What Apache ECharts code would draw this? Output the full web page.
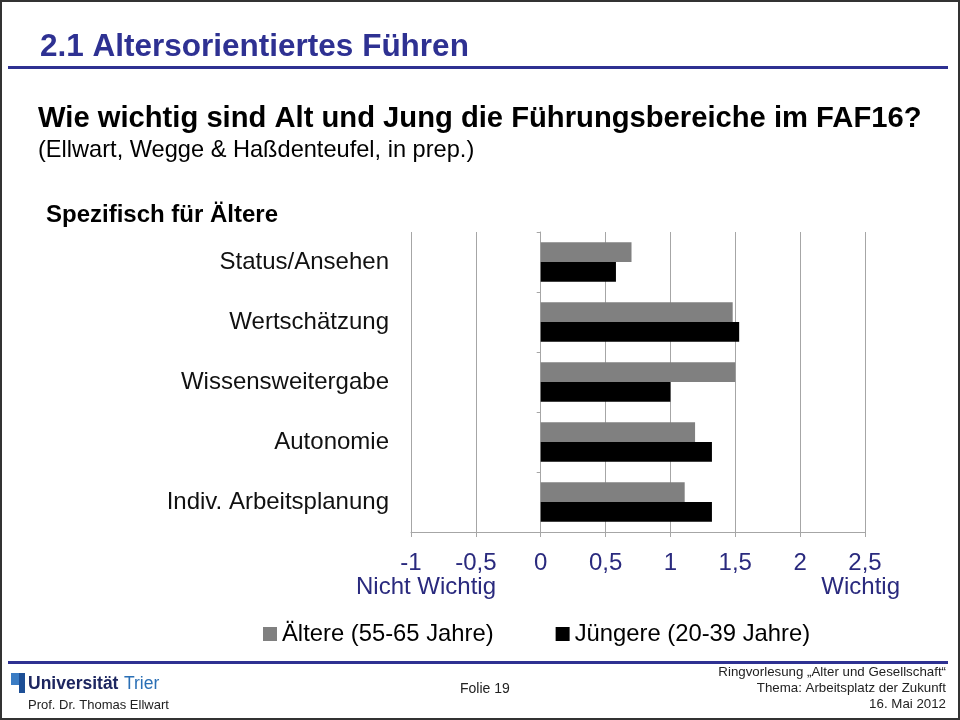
<!DOCTYPE html>
<html>
<head>
<meta charset="utf-8">
<script src="https://cdn.jsdelivr.net/npm/echarts@6/dist/echarts.min.js"></script>
<style>html,body{margin:0;padding:0;background:#fff}#c{width:960px;height:720px}</style>
</head>
<body>
<div id="c"></div>
<script>
const categories = ['Status/Ansehen', 'Wertschätzung', 'Wissensweitergabe', 'Autonomie', 'Indiv. Arbeitsplanung'];
const aeltere = [0.70, 1.48, 1.50, 1.19, 1.11];
const juengere = [0.58, 1.53, 1.00, 1.32, 1.32];
const seriesNames = ['Ältere (55-65 Jahre)', 'Jüngere (20-39 Jahre)'];
const xMin = -1, xMax = 2.5, xStep = 0.5;

const FONT = '"Liberation Sans", Arial, sans-serif';
const NAVY = '#2e3192';
const TICKNAVY = '#2a2a7e';

const chart = echarts.init(document.getElementById('c'), null, {renderer: 'canvas'});
chart.setOption({
  backgroundColor: '#ffffff',
  animation: false,
  textStyle: {fontFamily: FONT},
  grid: {left: 411, right: 95, top: 232, bottom: 188, containLabel: false},
  xAxis: {
    type: 'value', min: xMin, max: xMax, interval: xStep,
    axisLine: {show: true, lineStyle: {color: '#a6a6a6', width: 1}},
    axisTick: {show: true, length: 5, lineStyle: {color: '#a6a6a6'}},
    splitLine: {show: true, lineStyle: {color: '#a6a6a6', width: 1}},
    axisLabel: {
      color: TICKNAVY, fontSize: 24, fontFamily: FONT, margin: 19,
      formatter: v => String(v).replace('.', ',')
    }
  },
  yAxis: {
    type: 'category', data: categories, inverse: true,
    axisLine: {show: true, onZero: true, lineStyle: {color: '#a6a6a6', width: 1}},
    axisTick: {show: true, length: 4, lineStyle: {color: '#a6a6a6'}},
    axisLabel: {color: '#111', fontSize: 24, fontFamily: FONT, margin: 22}
  },
  legend: {
    data: seriesNames, left: 258, top: 617, icon: 'rect', itemWidth: 14, itemHeight: 14,
    itemGap: 62, textStyle: {fontSize: 23.8, color: '#000', fontFamily: FONT}
  },
  series: [
    {name: seriesNames[0], type: 'bar', data: aeltere, itemStyle: {color: '#808080'},
     barGap: '0%', barCategoryGap: '34%'},
    {name: seriesNames[1], type: 'bar', data: juengere, itemStyle: {color: '#000000'},
     barGap: '0%', barCategoryGap: '34%'}
  ],
  graphic: [
    {type: 'rect', shape: {x: 1, y: 1, width: 958, height: 718}, style: {fill: 'none', stroke: '#333', lineWidth: 2}, silent: true},
    {type: 'text', left: 40, top: 31, style: {text: '2.1 Altersorientiertes Führen', fill: NAVY, font: 'bold 31.5px ' + FONT}},
    {type: 'rect', shape: {x: 8, y: 66, width: 940, height: 3}, style: {fill: NAVY}},
    {type: 'text', left: 38, top: 104, style: {text: 'Wie wichtig sind Alt und Jung die Führungsbereiche im FAF16?', fill: '#000', font: 'bold 29.2px ' + FONT}},
    {type: 'text', left: 38, top: 138, style: {text: '(Ellwart, Wegge & Haßdenteufel, in prep.)', fill: '#000', font: '23.6px ' + FONT}},
    {type: 'text', left: 46, top: 203, style: {text: 'Spezifisch für Ältere', fill: '#000', font: 'bold 24px ' + FONT}},
    {type: 'text', left: 356, top: 575, style: {text: 'Nicht Wichtig', fill: TICKNAVY, font: '24px ' + FONT}},
    {type: 'text', right: 60, top: 575, style: {text: 'Wichtig', fill: TICKNAVY, font: '24px ' + FONT}},
    {type: 'rect', shape: {x: 8, y: 661, width: 940, height: 3}, style: {fill: NAVY}},
    {type: 'polygon', shape: {points: [[11,673],[19,673],[19,685],[11,685]]}, style: {fill: '#3a7cc4'}},
    {type: 'polygon', shape: {points: [[19,673],[25,673],[25,693],[19,693]]}, style: {fill: '#1d4f96'}},
    {type: 'text', left: 28, top: 675, style: {text: 'Universität', fill: '#1d2660', font: 'bold 17.5px ' + FONT}},
    {type: 'text', left: 124, top: 675, style: {text: 'Trier', fill: '#2a6fb5', font: '17.5px ' + FONT}},
    {type: 'text', left: 28, top: 699, style: {text: 'Prof. Dr. Thomas Ellwart', fill: '#222', font: '13px ' + FONT}},
    {type: 'text', left: 460, top: 682, style: {text: 'Folie 19', fill: '#222', font: '14px ' + FONT}},
    {type: 'text', right: 14, top: 666, style: {text: 'Ringvorlesung „Alter und Gesellschaft“', fill: '#222', font: '13.3px ' + FONT, align: 'right'}},
    {type: 'text', right: 14, top: 682, style: {text: 'Thema: Arbeitsplatz der Zukunft', fill: '#222', font: '13.3px ' + FONT, align: 'right'}},
    {type: 'text', right: 14, top: 698, style: {text: '16. Mai 2012', fill: '#222', font: '13.3px ' + FONT, align: 'right'}}
  ]
});
</script>
</body>
</html>
